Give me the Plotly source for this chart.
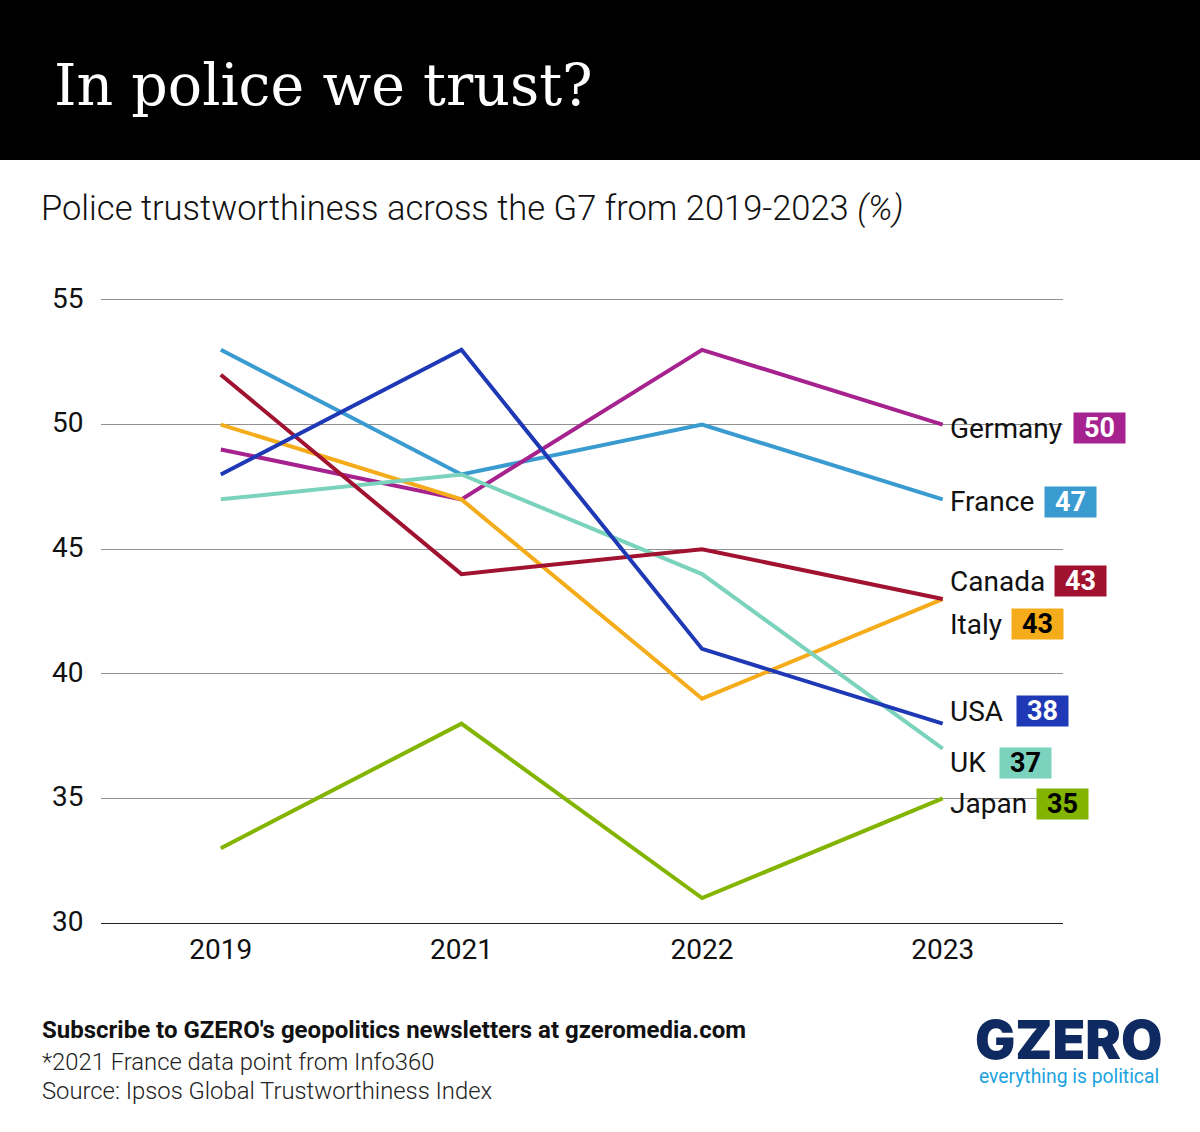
import plotly.graph_objects as go

W = 1200
H = 1132

years = ["2019", "2021", "2022", "2023"]
germany = [49, 47, 53, 50]
france = [53, 48, 50, 47]
canada = [52, 44, 45, 43]
italy = [50, 47, 39, 43]
usa = [48, 53, 41, 38]
uk = [47, 48, 44, 37]
japan = [33, 38, 31, 35]

y_ticks = [30, 35, 40, 45, 50, 55]

# drawn bottom to top, same stacking as the original where lines cross
# name, values, line colour, badge text colour, badge xshift, yshift of name, yshift of badge
series = [
    ("Japan", japan, "#82B400", "#000000", 93, -5, -6),
    ("France", france, "#3A9BD0", "#FFFFFF", 101, -2, -3),
    ("Germany", germany, "#A6228F", "#FFFFFF", 130, -3.5, -3.5),
    ("Italy", italy, "#F5AC1B", "#000000", 68, -25, -25),
    ("UK", uk, "#7BD3BD", "#000000", 56, -14, -14),
    ("Canada", canada, "#A01230", "#FFFFFF", 111, 17.5, 18.5),
    ("USA", usa, "#1F38B5", "#FFFFFF", 73, 12.5, 12.5),
]


def px_x(x):
    return x / W


def px_y(y):
    return 1 - y / H


def add_text(fig, x, y, text, size, color="#000000", family="Roboto", weight=400, xanchor="left"):
    fig.add_annotation(
        xref="paper",
        yref="paper",
        x=px_x(x),
        y=px_y(y),
        text=text,
        showarrow=False,
        xanchor=xanchor,
        yanchor="middle",
        font=dict(family=family, size=size, color=color, weight=weight),
    )


fig = go.Figure()

last = len(years) - 1  # annotations on a category axis go by index here

for name, values, color, text_color, badge_x, name_y, badge_y in series:
    fig.add_trace(
        go.Scatter(
            x=years,
            y=values,
            mode="lines",
            name=name,
            line=dict(color=color, width=4),
            showlegend=False,
        )
    )
    # country name next to the line end
    fig.add_annotation(
        xref="x",
        yref="y",
        x=last,
        y=values[last],
        text=name,
        showarrow=False,
        xanchor="left",
        yanchor="middle",
        xshift=5,
        yshift=name_y,
        font=dict(family="Roboto", size=28, color="#111111"),
    )
    # value badge
    fig.add_annotation(
        xref="x",
        yref="y",
        x=last,
        y=values[last],
        text=f"<b>{values[last]}</b>",
        showarrow=False,
        xanchor="left",
        yanchor="middle",
        xshift=badge_x,
        yshift=badge_y,
        width=51,
        height=30,
        borderpad=0,
        bgcolor=color,
        align="center",
        font=dict(family="Roboto", size=27, color=text_color),
    )

# black header band
fig.add_shape(
    type="rect",
    xref="paper",
    yref="paper",
    x0=0,
    x1=1,
    y0=px_y(160),
    y1=1,
    fillcolor="#000000",
    line_width=0,
    layer="below",
)

add_text(fig, 52, 85, "In police we trust?", 57, "#FFFFFF", "DejaVu Serif")
add_text(fig, 39, 208.5, "Police trustworthiness across the G7 from 2019-2023 <i>(%)</i>", 34.5, "#111111", weight=300)
add_text(fig, 40, 1030, "Subscribe to GZERO's geopolitics newsletters at gzeromedia.com", 24, "#111111", weight=700)
add_text(fig, 40, 1062, "*2021 France data point from Info360", 23.8, "#222222", weight=300)
add_text(fig, 40, 1091, "Source: Ipsos Global Trustworthiness Index", 23.8, "#222222", weight=300)

# logo
add_text(fig, 1069, 1039, "GZERO", 53.5, "#0F2A60", "Inter", 900, "center")
add_text(fig, 1069, 1076, "everything is political", 19.3, "#1BA3E0", "Roboto", 400, "center")

fig.update_layout(
    width=W,
    height=H,
    margin=dict(l=0, r=0, t=0, b=0),
    paper_bgcolor="#FFFFFF",
    plot_bgcolor="#FFFFFF",
    xaxis=dict(
        domain=[px_x(100.5), px_x(1063)],
        type="category",
        categoryorder="array",
        categoryarray=years,
        range=[-0.5, 3.5],
        showgrid=False,
        showline=True,
        linecolor="#222222",
        linewidth=1,
        ticks="",
        ticklabelstandoff=1,
        automargin=False,
        tickfont=dict(family="Roboto", size=28, color="#111111"),
    ),
    yaxis=dict(
        # a bit above 55 or plotly drops the top gridline
        domain=[px_y(923), px_y(297.5)],
        range=[30, 55.1],
        tickmode="array",
        tickvals=y_ticks,
        showgrid=True,
        gridcolor="#929292",
        gridwidth=1,
        zeroline=False,
        ticks="",
        ticklabelstandoff=16,
        ticklabelshift=-2,
        automargin=False,
        tickfont=dict(family="Roboto", size=28, color="#111111"),
    ),
)

fig.write_html(
    "out.html",
    config={"displayModeBar": False},
    post_script="document.body.style.margin='0';",
)
